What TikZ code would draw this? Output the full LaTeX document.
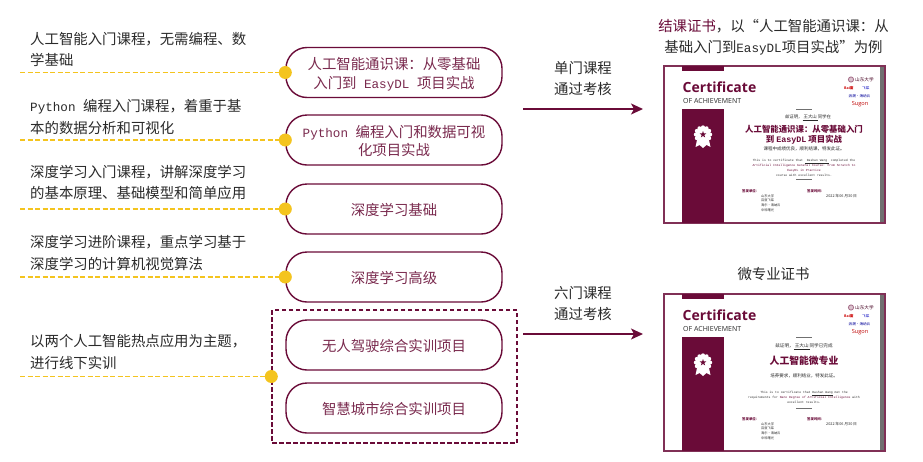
\documentclass[tikz,border=0pt]{standalone}
\usepackage{fontspec}
\usetikzlibrary{arrows.meta,shapes.geometric}
\newfontfamily\cjk{Noto Sans CJK SC}
\newfontfamily\lat{Liberation Mono}
\newfontfamily\certlat{Open Sans}
\definecolor{maroon}{HTML}{6A0B38}
\definecolor{pilltext}{HTML}{7A2A4E}
\definecolor{golden}{HTML}{F4C41E}
\definecolor{ink}{HTML}{2A2A2A}
\definecolor{stripe}{HTML}{707070}
\newcommand{\mono}[1]{{\lat\fontsize{12.6}{18}\selectfont #1}}
\newcommand{\pilltxt}[1]{\raisebox{-6.5pt}[0pt][0pt]{\begin{tabular}{@{}c@{}}#1\end{tabular}}}
\tikzset{
  lefttext/.style={anchor=west,inner sep=0pt,text=ink,font=\cjk\fontsize{14.4}{21.6}\selectfont,align=left},
  pill/.style={draw=maroon,line width=1.4pt,rounded corners=21pt,minimum width=216pt,minimum height=50pt,inner sep=0pt,
    text=pilltext,font=\cjk\fontsize{14.4}{18.2}\selectfont},
  dot/.style={circle,fill=golden,minimum size=13pt,inner sep=0pt},
  yline/.style={draw=golden,line width=1.4pt,dash pattern=on 5pt off 2.5pt},
  flow/.style={draw=maroon,line width=1.4pt,-{Stealth[length=12pt,width=11pt,inset=3pt]}},
  flowlabel/.style={inner sep=0pt,align=center,text=ink,font=\cjk\fontsize{14.4}{21}\selectfont},
  groupbox/.style={draw=maroon,line width=1.4pt,dash pattern=on 4.5pt off 2.5pt,minimum width=245pt,minimum height=133pt,inner sep=0pt},
  certtitle/.style={inner sep=0pt,align=center,text=ink,font=\cjk\fontsize{14.4}{21}\selectfont},
  ctxt/.style={inner sep=0pt,text=#1},
  ctxt/.default=ink
}
\newcommand{\certbase}[1]{%
  \begin{scope}[shift={(0,#1)}]
    \fill[stripe] (880,66) rectangle (885,223);
    \draw[maroon!85,line width=1.1pt] (664,66) rectangle (885,223);
    \fill[maroon] (682,66) rectangle (724,71);
    \fill[maroon] (682,108.5) rectangle (724,223);
    \node[ctxt=maroon,anchor=west,font=\certlat\bfseries\fontsize{14}{15}\selectfont] (certword#1) at (682.5,87.5) {Certificate};
    \node[ctxt,anchor=west,font=\certlat\fontsize{7}{7}\selectfont] (certsub#1) at (683,100.5) {OF ACHIEVEMENT};
    \fill[white] (697,140) -- (695.5,147) -- (699.5,145) -- (703,148) -- (706.5,145) -- (710.5,147) -- (709,140) -- cycle;
    \foreach \a in {0,30,...,330}{\fill[white] (703,134.5)++(\a:7.2) circle (2);}
    \fill[white] (703,134.5) circle (7.5);
    \node[star,star points=5,star point ratio=2.4,fill=maroon,minimum size=7pt,inner sep=0pt] (certstar#1) at (703,134.5) {};
    % logos
    \draw[maroon!60,line width=.8pt,fill=maroon!25] (851,79.5) circle (2.6);
    \node[ctxt=maroon!70!black,anchor=west,font=\cjk\fontsize{4.6}{5}\selectfont] (logoa#1) at (855,79.5) {山东大学};
    \node[ctxt=red!80!black,anchor=west,font=\certlat\bfseries\fontsize{3.6}{4}\selectfont] (logob#1) at (844,88.5) {Bai{\cjk 度}};
    \node[ctxt=blue!75!black,anchor=west,font=\cjk\fontsize{3.6}{4}\selectfont] (logoc#1) at (862,88.5) {飞桨};
    \node[ctxt=blue!60!black,font=\cjk\fontsize{3.6}{4}\selectfont] (logod#1) at (859.5,96.5) {浪潮·海纳云};
    \node[ctxt=red!75!black,font=\certlat\fontsize{5.6}{6}\selectfont] (logoe#1) at (860,104) {Sugon};
    % issuing block
    \node[ctxt=maroon,anchor=west,font=\cjk\bfseries\fontsize{3.4}{4}\selectfont] (orga#1) at (742,191) {签发单位：};
    \node[ctxt=maroon,anchor=west,font=\cjk\bfseries\fontsize{3.4}{4}\selectfont] (datea#1) at (807,191) {签发时间：};
    \node[ctxt,anchor=west,font=\cjk\fontsize{3.2}{4.6}\selectfont,align=left] (orgb#1) at (761,203) {山东大学\\百度飞桨\\海尔·海纳云\\中科曙光};
    \node[ctxt,anchor=west,font=\cjk\fontsize{3.8}{4}\selectfont] (dateb#1) at (826,196) {2022 年06 月30 日};
  \end{scope}}
\begin{document}
\begin{tikzpicture}[x=1pt,y=-1pt]
\useasboundingbox (0,0) rectangle (923,461);
\fill[white] (0,0) rectangle (923,461);

% left descriptions
\node[lefttext] (d1) at (30,49.5) {人工智能入门课程，无需编程、数\\学基础};
\node[lefttext] (d2) at (30,117) {\mono{Python\ }编程入门课程，着重于基\\本的数据分析和可视化};
\node[lefttext] (d3) at (30,182.5) {深度学习入门课程，讲解深度学习\\的基本原理、基础模型和简单应用};
\node[lefttext] (d4) at (30,253) {深度学习进阶课程，重点学习基于\\深度学习的计算机视觉算法};
\node[lefttext] (d5) at (30,352) {以两个人工智能热点应用为主题，\\进行线下实训};

% group box
\node[groupbox] (grp) at (394.5,376.5) {};

% course pills
\node[pill] (p1) at (394,72.5) {\pilltxt{人工智能通识课：从零基础\\入门到\mono{\ EasyDL\ }项目实战}};
\node[pill] (p2) at (394,140) {\pilltxt{\mono{Python\ }编程入门和数据可视\\化项目实战}};
\node[pill] (p3) at (394,209) {\pilltxt{深度学习基础}};
\node[pill] (p4) at (394,277) {\pilltxt{深度学习高级}};
\node[pill] (p5) at (394,345) {\pilltxt{无人驾驶综合实训项目}};
\node[pill] (p6) at (394,408) {\pilltxt{智慧城市综合实训项目}};

% dots and dashed leaders
\node[dot] (k1) at (p1.west) {};
\node[dot] (k2) at (p2.west) {};
\node[dot] (k3) at (p3.west) {};
\node[dot] (k4) at (p4.west) {};
\node[dot] (k5) at (grp.west) {};
\coordinate (s1) at (20,72.5);
\coordinate (s2) at (20,140);
\coordinate (s3) at (20,209);
\coordinate (s4) at (20,277);
\coordinate (s5) at (20,376.5);
\foreach \i in {1,...,5}{\draw[yline] (s\i) -- (k\i);}

% certificates
\certbase{0}
\certbase{228}
% certificate 1 text
\draw[stripe,line width=.6pt] (796,109) -- (812,109);
\node[ctxt,font=\cjk\fontsize{4.4}{5}\selectfont] (c1a) at (808,118) {兹证明，\underline{ 王大山 }同学在};
\node[ctxt=maroon,align=center,font=\cjk\bfseries\fontsize{8.4}{9.6}\selectfont] (c1b) at (804,134.5) {人工智能通识课：从零基础入门\\到 {\lat\bfseries EasyDL} 项目实战};
\node[ctxt,font=\cjk\fontsize{4.5}{5}\selectfont] (c1c) at (804,149) {课程中成绩优良，顺利结课，特发此证。};
\node[ctxt,align=center,font=\lat\fontsize{3.1}{5}\selectfont] (c1d) at (804,167.5) {This is to certificate that \underline{ Dashan Wang } completed the\\{\color{maroon}Artificial Intelligence General Course: From Scratch to}\\{\color{maroon}EasyDL in Practice}\\course with excellent results.};
\draw[stripe,line width=.6pt] (796,179) -- (812,179);
% certificate 2 text
\draw[stripe,line width=.6pt] (796,337) -- (812,337);
\node[ctxt,font=\cjk\fontsize{4.6}{5}\selectfont] (c2a) at (804,347) {兹证明，\underline{ 王大山 }同学已完成};
\node[ctxt=maroon,font=\cjk\bfseries\fontsize{9.8}{11}\selectfont] (c2b) at (804,361) {人工智能微专业};
\node[ctxt,font=\cjk\fontsize{4.5}{5}\selectfont] (c2c) at (804,376) {培养要求，顺利结业，特发此证。};
\node[ctxt,align=center,font=\lat\fontsize{3.1}{5.3}\selectfont] (c2d) at (804,397.5) {This is to certificate that \underline{Dashan Wang} met the\\requirements for {\color{maroon}Nano Degree of Artificial Intelligence} with\\excellent results.};
\draw[stripe,line width=.6pt] (796,408) -- (812,408);

% flow arrows
\coordinate (a1s) at (523,109);
\coordinate (a1e) at (643,109);
\coordinate (a2s) at (523,334);
\coordinate (a2e) at (643,334);
\draw[flow] (a1s) -- (a1e);
\draw[flow] (a2s) -- (a2e);
\node[flowlabel] (l1) at (583,78.5) {单门课程\\通过考核};
\node[flowlabel] (l2) at (583,303.5) {六门课程\\通过考核};

% titles
\node[certtitle] (t1) at (773.5,37.5) {{\color{maroon}结课证书}，以“人工智能通识课：从\\基础入门到\mono{EasyDL}项目实战”为例};
\node[certtitle] (t2) at (773.5,274) {微专业证书};
\end{tikzpicture}
\end{document}
